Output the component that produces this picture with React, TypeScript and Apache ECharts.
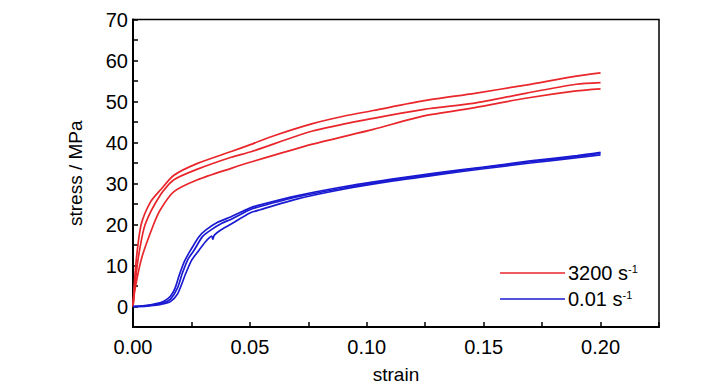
import React, { useEffect, useRef } from "react";
import * as echarts from "echarts";

// 3200 s^-1 curves: [strain, stress MPa]
const red1: number[][] = [
  [0, 0], [0.0005, 5], [0.0015, 12], [0.0035, 20], [0.0075, 25.5], [0.0117, 28.4],
  [0.0175, 32.0], [0.0276, 34.9], [0.042, 37.8], [0.0508, 39.6], [0.06, 41.6],
  [0.0768, 44.6], [0.09, 46.4], [0.1028, 47.8], [0.1245, 50.2], [0.1462, 52.0],
  [0.1679, 54.0], [0.1896, 56.2], [0.2, 57.0],
];
const red2: number[][] = [
  [0, 0], [0.0006, 4], [0.0023, 12], [0.0052, 20], [0.0117, 27.2], [0.0175, 30.9],
  [0.0276, 33.5], [0.042, 36.4], [0.0508, 37.8], [0.0768, 42.8], [0.1028, 45.9],
  [0.1245, 48.1], [0.1462, 49.6], [0.1679, 52.0], [0.1896, 54.2], [0.2, 54.6],
];
const red3: number[][] = [
  [0, 0], [0.0008, 4], [0.0038, 12], [0.0088, 20], [0.0117, 23.6], [0.0175, 28.0],
  [0.0276, 30.9], [0.042, 33.7], [0.0508, 35.3], [0.0768, 39.6], [0.1028, 43.2],
  [0.1245, 46.5], [0.1462, 48.5], [0.1679, 50.8], [0.1896, 52.6], [0.2, 53.1],
];

// 0.01 s^-1 curves
const blue1: number[][] = [
  [0, 0], [0.005, 0.2], [0.01, 0.7], [0.0132, 1.3], [0.016, 2.5], [0.018, 4.5],
  [0.0197, 7.5], [0.022, 11], [0.0247, 13.8], [0.0283, 17.1], [0.0312, 18.7],
  [0.036, 20.5], [0.042, 21.9], [0.05, 24.0], [0.0544, 24.8], [0.07, 27.0],
  [0.09, 29.2], [0.11, 31.0], [0.13, 32.6], [0.15, 34.0], [0.17, 35.5], [0.19, 36.8], [0.2, 37.6],
];
const blue2: number[][] = [
  [0, 0], [0.005, 0.1], [0.01, 0.5], [0.0132, 0.9], [0.016, 1.8], [0.019, 4.5],
  [0.0211, 8.1], [0.0235, 11.5], [0.0262, 13.8], [0.0298, 17.1], [0.0334, 18.7],
  [0.038, 20.3], [0.042, 21.3], [0.05, 23.6], [0.0544, 24.4], [0.07, 26.7],
  [0.09, 28.9], [0.11, 30.8], [0.13, 32.4], [0.15, 33.9], [0.17, 35.3], [0.19, 36.6], [0.2, 37.4],
];
const blue3: number[][] = [
  [0, 0], [0.005, 0.05], [0.01, 0.3], [0.0132, 0.7], [0.016, 1.2], [0.019, 3.0],
  [0.0226, 8.1], [0.025, 11.2], [0.0283, 13.8], [0.031, 15.8], [0.0327, 16.8],
  [0.0337, 17.2], [0.0341, 16.4], [0.0348, 17.4], [0.0377, 18.7], [0.042, 20.1],
  [0.05, 22.8], [0.0544, 23.6], [0.07, 26.2], [0.09, 28.6], [0.11, 30.5],
  [0.13, 32.1], [0.15, 33.6], [0.17, 35.0], [0.19, 36.3], [0.2, 37.0],
];

const legendNames = ["3200", "0.01"];
const legendLabels: Record<string, string> = { "3200": "3200 s", "0.01": "0.01 s" };

const RED = "#e8262b";
const BLUE = "#1a1ad2";

export default function App() {
  const ref = useRef<HTMLDivElement>(null);
  useEffect(() => {
    if (!ref.current) return;
    const chart = echarts.init(ref.current, undefined, { renderer: "svg" });
    const mk = (name: string, data: number[][], color: string) => ({
      name,
      type: "line",
      data,
      symbol: "none",
      smooth: 0.25,
      lineStyle: { color, width: 1.7 },
      itemStyle: { color },
    });
    const font = "Liberation Sans, Arial, sans-serif";
    chart.setOption({
      animation: false,
      textStyle: { fontFamily: font },
      grid: {
        left: 125, right: 69, top: 11.5, bottom: 63,
        show: true, borderColor: "#000", borderWidth: 1.5,
      },
      legend: {
        data: legendNames,
        left: 487,
        top: 250,
        orient: "vertical",
        icon: "rect",
        itemWidth: 65,
        itemHeight: 1.6,
        itemGap: 6,
        textStyle: {
          fontFamily: font,
          fontSize: 20,
          color: "#000",
          padding: [0, 0, 0, -2],
          rich: {
            a: { fontSize: 20, fontFamily: font, color: "#000", verticalAlign: "bottom" },
            b: { fontSize: 11, fontFamily: font, color: "#000", verticalAlign: "top" },
          },
        },
        formatter: (n: string) => `{a|${legendLabels[n]}}{b|-1}`,
      },
      xAxis: {
        type: "value",
        min: 0,
        max: 0.225,
        interval: 0.025,
        name: "strain",
        nameLocation: "middle",
        nameGap: 38,
        nameTextStyle: { fontSize: 19, color: "#000", fontFamily: font },
        axisLine: { show: true, onZero: false, lineStyle: { color: "#000", width: 2 } },
        axisTick: { show: true, inside: true, length: 5, lineStyle: { color: "#000", width: 1.5 } },
        splitLine: { show: false },
        axisLabel: {
          fontSize: 20,
          color: "#000",
          margin: 10,
          fontFamily: font,
          formatter: (v: number) => (Math.round(v * 1000) % 50 === 0 ? v.toFixed(2) : ""),
        },
      },
      yAxis: {
        type: "value",
        min: -5,
        max: 70,
        interval: 5,
        name: "stress / MPa",
        nameLocation: "middle",
        nameGap: 48,
        nameTextStyle: { fontSize: 19, color: "#000", fontFamily: font },
        axisLine: { show: true, onZero: false, lineStyle: { color: "#000", width: 2 } },
        axisTick: { show: true, inside: true, length: 5, lineStyle: { color: "#000", width: 1.5 } },
        splitLine: { show: false },
        axisLabel: {
          fontSize: 20,
          color: "#000",
          margin: 5,
          fontFamily: font,
          formatter: (v: number) => (v >= 0 && Math.round(v) % 10 === 0 ? String(v) : ""),
        },
      },
      series: [
        mk("3200", red1, RED),
        mk("3200", red2, RED),
        mk("3200", red3, RED),
        mk("0.01", blue1, BLUE),
        mk("0.01", blue2, BLUE),
        mk("0.01", blue3, BLUE),
      ],
    });
    return () => chart.dispose();
  }, []);
  return <div ref={ref} style={{ width: 720, height: 382 }} />;
}
